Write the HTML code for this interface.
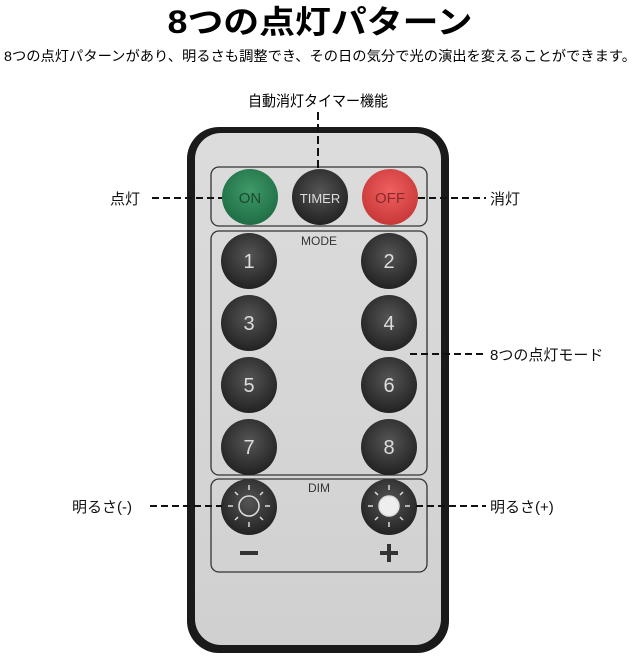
<!DOCTYPE html>
<html><head><meta charset="utf-8"><style>
html,body{margin:0;padding:0;background:#fff;}
svg{display:block;}
text{font-family:"Liberation Sans","Noto Sans CJK JP",sans-serif;}
</style></head><body>
<svg width="640" height="665" viewBox="0 0 640 665" xmlns="http://www.w3.org/2000/svg">
<defs>
<radialGradient id="blk" cx="50%" cy="40%" r="60%"><stop offset="0" stop-color="#555"/><stop offset="1" stop-color="#222"/></radialGradient>
<radialGradient id="grn" cx="50%" cy="40%" r="60%"><stop offset="0" stop-color="#3f9a68"/><stop offset="1" stop-color="#1f6d45"/></radialGradient>
<radialGradient id="red" cx="50%" cy="40%" r="60%"><stop offset="0" stop-color="#f06060"/><stop offset="1" stop-color="#c83838"/></radialGradient>
<linearGradient id="body" x1="0" y1="0" x2="0" y2="1"><stop offset="0" stop-color="#dcdcdc"/><stop offset="1" stop-color="#d0d0d0"/></linearGradient>
</defs>
<text x="320" y="33" font-size="32" font-weight="bold" text-anchor="middle" textLength="305" lengthAdjust="spacingAndGlyphs">8つの点灯パターン</text>
<text x="4" y="61" font-size="14" textLength="632" lengthAdjust="spacingAndGlyphs">8つの点灯パターンがあり、明るさも調整でき、その日の気分で光の演出を変えることができます。</text>
<text x="318" y="106" font-size="15" text-anchor="middle" textLength="140" lengthAdjust="spacingAndGlyphs">自動消灯タイマー機能</text>
<!-- remote -->
<rect x="187" y="127" width="262" height="526" rx="32" fill="#1a1a1a"/>
<rect x="195" y="133" width="246" height="512" rx="26" fill="url(#body)"/>
<rect x="211" y="167" width="216" height="59" rx="8" fill="none" stroke="#333" stroke-width="1.3"/>
<rect x="211" y="231" width="216" height="244" rx="8" fill="none" stroke="#333" stroke-width="1.3"/>
<rect x="211" y="479" width="216" height="93" rx="8" fill="none" stroke="#333" stroke-width="1.3"/>
<line x1="318" y1="112" x2="318" y2="170" stroke="#111" stroke-width="2" stroke-dasharray="8,4"/>
<rect x="316" y="172" width="4" height="8" fill="none" stroke="#444" stroke-width="1"/>
<circle cx="250" cy="197" r="28" fill="url(#grn)"/>
<text x="250" y="203" font-size="15" fill="#1a4a30" text-anchor="middle">ON</text>
<circle cx="320" cy="197" r="28" fill="url(#blk)"/>
<text x="320" y="203" font-size="13" fill="#ddd" text-anchor="middle">TIMER</text>
<circle cx="390" cy="197" r="28" fill="url(#red)"/>
<text x="390" y="203" font-size="15" fill="#8a2a2a" text-anchor="middle">OFF</text>
<text x="319" y="245" font-size="12" fill="#333" text-anchor="middle">MODE</text>
<g fill="url(#blk)">
<circle cx="249" cy="261" r="28"/><circle cx="389" cy="261" r="28"/>
<circle cx="249" cy="323" r="28"/><circle cx="389" cy="323" r="28"/>
<circle cx="249" cy="385" r="28"/><circle cx="389" cy="385" r="28"/>
<circle cx="249" cy="447" r="28"/><circle cx="389" cy="447" r="28"/>
</g>
<g font-size="20" fill="#ddd" text-anchor="middle">
<text x="249" y="268">1</text><text x="389" y="268">2</text>
<text x="249" y="330">3</text><text x="389" y="330">4</text>
<text x="249" y="392">5</text><text x="389" y="392">6</text>
<text x="249" y="454">7</text><text x="389" y="454">8</text>
</g>
<text x="319" y="492" font-size="12" fill="#333" text-anchor="middle">DIM</text>
<circle cx="249" cy="507" r="28" fill="url(#blk)"/>
<circle cx="389" cy="507" r="28" fill="url(#blk)"/>
<g stroke="#ddd" stroke-width="1.5">
<circle cx="249" cy="506" r="10" fill="none"/>
<circle cx="389" cy="506" r="10" fill="#eee"/>
<path d="M249 490v-5M249 522v5M233 506h-5M265 506h5M238 495l-3-3M260 495l3-3M238 517l-3 3M260 517l3 3"/>
<path d="M389 490v-5M389 522v5M373 506h-5M405 506h5M378 495l-3-3M400 495l3-3M378 517l-3 3M400 517l3 3"/>
</g>
<rect x="240" y="551" width="18" height="4" fill="#333"/>
<rect x="380" y="551" width="18" height="4" fill="#333"/>
<rect x="387" y="544" width="4" height="18" fill="#333"/>
<!-- callouts -->
<g stroke="#111" stroke-width="2" stroke-dasharray="7,4">
<line x1="152" y1="198" x2="222" y2="198"/>
<line x1="418" y1="198" x2="486" y2="198"/>
<line x1="410" y1="354" x2="486" y2="354"/>
<line x1="150" y1="506" x2="222" y2="506"/>
<line x1="416" y1="506" x2="486" y2="506"/>
</g>
<g font-size="15" fill="#111">
<text x="110" y="204">点灯</text>
<text x="490" y="204">消灯</text>
<text x="490" y="360">8つの点灯モード</text>
<text x="72" y="512">明るさ(-)</text>
<text x="490" y="512">明るさ(+)</text>
</g>
</svg>
</body></html>
